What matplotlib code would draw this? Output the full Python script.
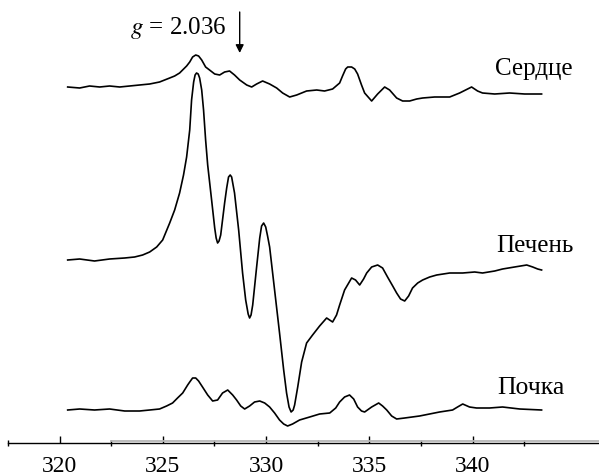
import matplotlib
matplotlib.use("Agg")
import matplotlib.pyplot as plt
import numpy as np

plt.rcParams['font.family'] = ['Liberation Serif', 'DejaVu Serif']
plt.rcParams['mathtext.fontset'] = 'stix'

# magnetic field, mT ; intensity, a.u. (relative to each trace's own baseline)
heart_x = [320.39, 320.97, 321.45, 321.94, 322.42, 322.91, 323.39, 323.87, 324.36, 324.84,
           325.33, 325.57, 325.81, 326.15, 326.30, 326.44, 326.59, 326.73, 326.88, 327.07,
           327.26, 327.51, 327.75, 327.99, 328.23, 328.47, 328.72, 329.06, 329.30, 329.54,
           329.83, 330.17, 330.51, 330.80, 331.14, 331.48, 331.96, 332.45, 332.83, 333.22,
           333.56, 333.70, 333.85, 333.95, 334.14, 334.29, 334.43, 334.62, 334.77, 335.11,
           335.40, 335.74, 335.98, 336.32, 336.61, 336.95, 337.29, 337.58, 338.16, 338.89,
           339.37, 339.66, 339.95, 340.24, 340.48, 341.07, 341.79, 342.52, 343.34]
heart_y = [0, -1, 1, 0, 1, 0, 1, 2, 3, 5,
           9, 11, 14, 21, 25, 30, 32, 31, 27, 20,
           17, 13, 12, 15, 16, 12, 7, 2, 0, 3,
           6, 3, -1, -6, -10, -8, -4, -3, -4, -2,
           4, 11, 18, 20, 20, 18, 13, 2, -6, -14,
           -7, 0, -3, -11, -14, -14, -12, -11, -10, -10,
           -6, -3, 0, -4, -6, -7, -6, -7, -7]

liver_x = [320.39, 320.97, 321.69, 322.42, 323.15, 323.63, 324.02, 324.36, 324.70, 324.99,
           325.33, 325.57, 325.81, 326.00, 326.15, 326.30, 326.39, 326.49, 326.56, 326.63,
           326.71, 326.78, 326.88, 326.97, 327.07, 327.17, 327.36, 327.51, 327.58, 327.65,
           327.72, 327.80, 327.99, 328.09, 328.18, 328.26, 328.33, 328.47, 328.67, 328.86,
           329.01, 329.13, 329.20, 329.27, 329.35, 329.54, 329.69, 329.78, 329.88, 329.98,
           330.07, 330.17, 330.41, 330.65, 330.85, 330.99, 331.11, 331.21, 331.31, 331.38,
           331.53, 331.72, 331.96, 332.25, 332.59, 332.93, 333.22, 333.41, 333.56, 333.80,
           334.14, 334.33, 334.53, 334.72, 334.87, 335.11, 335.40, 335.64, 335.88, 336.13,
           336.32, 336.51, 336.71, 336.90, 337.09, 337.34, 337.58, 337.92, 338.26, 338.89,
           339.52, 340.10, 340.48, 341.07, 341.45, 342.03, 342.62, 342.91, 343.15, 343.34]
liver_y = [-2, -1, -3, -1, 0, 1, 3, 6, 11, 18,
           35, 48, 65, 83, 101, 128, 158, 176, 183, 185,
           184, 180, 168, 148, 118, 93, 58, 30, 20, 15,
           17, 23, 55, 70, 81, 83, 81, 65, 28, -15,
           -42, -56, -60, -57, -47, -9, 20, 32, 35, 31,
           22, 11, -32, -75, -112, -135, -149, -154, -152, -147,
           -129, -104, -85, -77, -68, -60, -64, -57, -47, -32,
           -20, -22, -27, -21, -15, -9, -7, -10, -19, -28,
           -35, -41, -43, -38, -30, -25, -22, -19, -17, -15,
           -15, -14, -15, -13, -11, -9, -7, -9, -11, -12]

kidney_x = [320.39, 320.97, 321.69, 322.42, 323.15, 323.87, 324.36, 324.84, 325.18, 325.47,
            325.71, 325.96, 326.20, 326.30, 326.44, 326.59, 326.73, 326.92, 327.17, 327.41,
            327.65, 327.89, 328.14, 328.38, 328.57, 328.77, 328.96, 329.20, 329.44, 329.69,
            329.93, 330.17, 330.41, 330.65, 330.85, 331.04, 331.28, 331.62, 332.11, 332.59,
            333.08, 333.37, 333.56, 333.80, 334.04, 334.24, 334.43, 334.62, 334.77, 335.11,
            335.45, 335.64, 335.84, 336.08, 336.32, 336.71, 337.43, 338.40, 339.03, 339.27,
            339.52, 339.85, 340.19, 340.82, 341.45, 342.28, 343.34]
kidney_y = [0, 1, 0, 1, -1, -1, 0, 1, 4, 7,
            12, 17, 25, 28, 32, 32, 29, 23, 15, 9,
            10, 17, 20, 15, 10, 4, 1, 4, 8, 9,
            7, 3, -3, -10, -14, -16, -14, -10, -7, -4,
            -3, 2, 8, 13, 15, 11, 3, -1, -2, 3,
            7, 4, 0, -6, -9, -8, -6, -2, 0, 3,
            6, 3, 2, 2, 3, 1, 0]

labels = ["Сердце", "Печень", "Почка"]
offsets = [356, 185, 33]
ticks = [320, 325, 330, 335, 340]
minor_ticks = [317.5, 322.5, 327.5, 332.5, 337.5, 342.5]
g_field = 328.72

fig = plt.figure(figsize=(5.99, 4.75), dpi=100)
ax = fig.add_axes([8 / 599, 32 / 475, 591 / 599, 443 / 475])

for xs, ys, off in zip([heart_x, liver_x, kidney_x], [heart_y, liver_y, kidney_y], offsets):
    ax.plot(xs, np.array(ys) + off, color='black', lw=1.2)

ax.text(341.1, 374, labels[0], fontsize=18, ha='left', va='center')
ax.text(341.16, 197, labels[1], fontsize=18, ha='left', va='center')
ax.text(341.2, 55, labels[2], fontsize=18.5, ha='left', va='center')

ax.text(328.1, 415, r"$g$ = 2.036", fontsize=18, ha='right', va='center')
ax.annotate("", xy=(g_field, 390), xytext=(g_field, 431),
            arrowprops=dict(arrowstyle='-|>', color='black', lw=1, mutation_scale=12,
                            shrinkA=0, shrinkB=0))

# axis
ax.set_xlim(317.5, 317.5 + 591 / 20.65)
ax.set_ylim(0, 443)
for s in ['top', 'right', 'left']:
    ax.spines[s].set_visible(False)
ax.spines['bottom'].set_linewidth(1.0)
ax.plot([322.5, 346.2], [2.2, 2.2], color='#b5b5b5', lw=1.3, clip_on=False)
ax.set_yticks([])
ax.set_xticks(ticks)
ax.set_xticks(minor_ticks, minor=True)
ax.tick_params(axis='x', which='major', direction='in', length=5, width=1, labelsize=17, pad=9)
ax.tick_params(axis='x', which='minor', direction='inout', length=4, width=1)

fig.savefig("out.png", dpi=100)
